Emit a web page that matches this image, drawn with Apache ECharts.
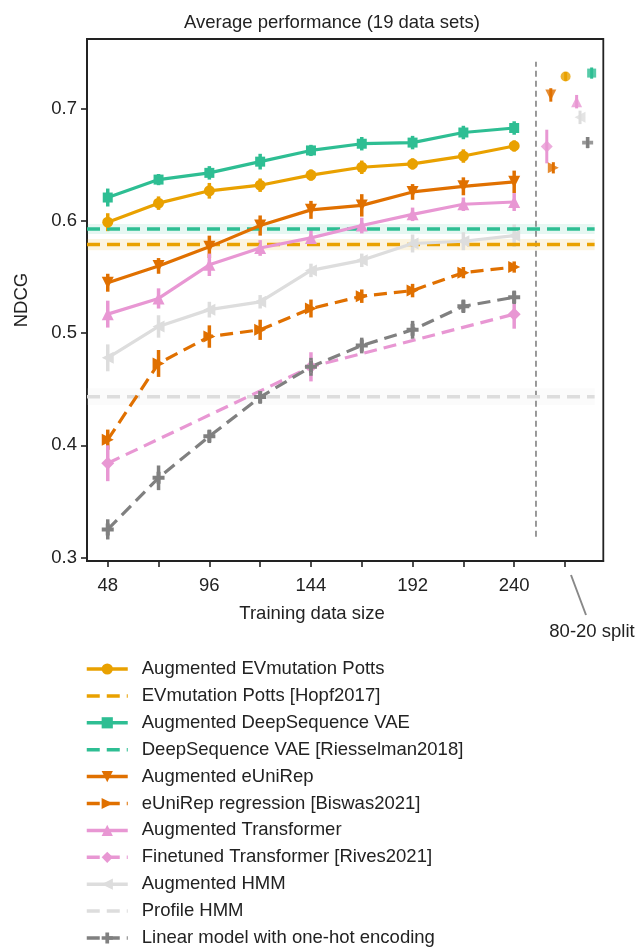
<!DOCTYPE html>
<html>
<head>
<meta charset="utf-8">
<script src="https://cdn.jsdelivr.net/npm/echarts@6/dist/echarts.min.js"></script>
<style>
  html, body { margin: 0; padding: 0; background: #fff; }
  #chart { width: 638px; height: 948px; }
</style>
</head>
<body>
<div id="chart"></div>
<script>
// Training set sizes (x axis) and NDCG averages over 19 data sets
const sizes = [48, 72, 96, 120, 144, 168, 192, 216, 240];
const finetuneSizes = [48, 144, 240];
const xTickValues = [48, 72, 96, 120, 144, 168, 192, 216, 240, 264];
const xLabelValues = [48, 96, 144, 192, 240];
const yTickValues = [0.3, 0.4, 0.5, 0.6, 0.7];

const augEVmutation = [0.599, 0.616, 0.627, 0.632, 0.641, 0.648, 0.651, 0.658, 0.667];
const augEVmutationErr = [0.008, 0.006, 0.007, 0.006, 0.005, 0.006, 0.005, 0.006, 0.005];
const augVAE = [0.621, 0.637, 0.643, 0.653, 0.663, 0.669, 0.670, 0.679, 0.683];
const augVAEErr = [0.008, 0.005, 0.006, 0.007, 0.005, 0.006, 0.006, 0.006, 0.006];
const augEUniRep = [0.545, 0.560, 0.577, 0.596, 0.610, 0.614, 0.626, 0.631, 0.635];
const augEUniRepErr = [0.008, 0.007, 0.010, 0.009, 0.008, 0.010, 0.007, 0.008, 0.010];
const eUniRepRegression = [0.405, 0.473, 0.497, 0.503, 0.522, 0.533, 0.538, 0.554, 0.559];
const eUniRepRegressionErr = [0.009, 0.012, 0.010, 0.009, 0.008, 0.006, 0.006, 0.005, 0.005];
const augTransformer = [0.517, 0.531, 0.561, 0.576, 0.585, 0.596, 0.606, 0.615, 0.617];
const augTransformerErr = [0.012, 0.009, 0.010, 0.007, 0.007, 0.007, 0.006, 0.006, 0.008];
const finetunedTransformer = [0.384, 0.470, 0.517];
const finetunedTransformerErr = [0.016, 0.013, 0.013];
const augHMM = [0.478, 0.506, 0.521, 0.528, 0.556, 0.565, 0.580, 0.582, 0.587];
const augHMMErr = [0.012, 0.010, 0.007, 0.006, 0.006, 0.006, 0.008, 0.008, 0.010];
const linearOneHot = [0.325, 0.371, 0.408, 0.443, 0.470, 0.489, 0.503, 0.524, 0.532];
const linearOneHotErr = [0.009, 0.011, 0.006, 0.006, 0.008, 0.007, 0.008, 0.006, 0.006];

// Baselines trained without augmentation (value, half band)
const evmutationPotts = 0.579, evmutationPottsBand = 0.005;
const deepSequenceVAE = 0.593, deepSequenceVAEBand = 0.0045;
const profileHMM = 0.4434, profileHMMBand = 0.0075;

// 80-20 split results: [x position, NDCG, error]
const split8020 = {
  'Augmented EVmutation Potts': [264.3, 0.729, 0.004],
  'Augmented DeepSequence VAE': [276.6, 0.732, 0.005],
  'Augmented eUniRep': [257.3, 0.7125, 0.006],
  'eUniRep regression [Biswas2021]': [258.5, 0.6475, 0.005],
  'Augmented Transformer': [269.5, 0.7065, 0.006],
  'Finetuned Transformer [Rives2021]': [255.4, 0.6665, 0.015],
  'Augmented HMM': [271.1, 0.6925, 0.006],
  'Linear model with one-hot encoding': [274.7, 0.670, 0.005]
};

const FONT = 'Liberation Sans, Arial, sans-serif';
const FS = 18.5;
const X_MIN = 38.2, X_MAX = 282.1, Y_MIN = 0.2968, Y_MAX = 0.7624;
const BASE_X_END = 278;
const SPLIT_X = 250.3;

const C = {
  gold: '#E9A100', green: '#2EBE93', orange: '#E07000',
  pink: '#E897D3', light: '#DDDDDD', dark: '#808080'
};
const DASH = [13, 7];
const PLUS = 'path://M2,0H4V2H6V4H4V6H2V4H0V2H2Z';

const series = [];

function errorBars(name, color, xs, ys, es, width) {
  return {
    type: 'custom', name: name + ' error', silent: true, z: 3,
    data: xs.map((x, i) => [x, ys[i] - es[i], ys[i] + es[i]]),
    encode: { x: 0, y: [1, 2] },
    renderItem: function (params, api) {
      const p1 = api.coord([api.value(0), api.value(1)]);
      const p2 = api.coord([api.value(0), api.value(2)]);
      return { type: 'line', shape: { x1: p1[0], y1: p1[1], x2: p2[0], y2: p2[1] },
        style: { stroke: color, lineWidth: width || 3.5 } };
    }
  };
}

function curve(name, color, xs, ys, es, symbol, rotate, dashed, size) {
  series.push({
    type: 'line', name: name, z: 4,
    data: xs.map((x, i) => [x, ys[i]]),
    symbol: symbol, symbolSize: size || 11, symbolRotate: rotate || 0,
    showAllSymbol: true,
    itemStyle: { color: color },
    lineStyle: { color: color, width: 3.2, type: dashed ? DASH : 'solid' },
    emphasis: { disabled: true }, animation: false
  });
  series.push(errorBars(name, color, xs, ys, es));
  const s = split8020[name];
  if (s) {
    series.push({
      type: 'scatter', name: name + ' (80-20 split)', z: 4,
      data: [[s[0], s[1]]], symbol: symbol, symbolSize: (size || 11) - 1,
      symbolRotate: rotate || 0, itemStyle: { color: color }, animation: false
    });
    series.push(errorBars(name + ' split', color, [s[0]], [s[1]], [s[2]], 3));
  }
}

function baseline(name, color, value, band) {
  series.push({
    type: 'line', name: name, z: 3,
    data: [[X_MIN, value], [BASE_X_END, value]],
    symbol: 'none', itemStyle: { color: color },
    lineStyle: { color: color, width: 3.5, type: DASH },
    markArea: {
      silent: true,
      itemStyle: { color: color, opacity: 0.12 },
      data: [[{ xAxis: X_MIN, yAxis: value - band }, { xAxis: BASE_X_END, yAxis: value + band }]]
    },
    animation: false
  });
}

curve('Augmented EVmutation Potts', C.gold, sizes, augEVmutation, augEVmutationErr, 'circle', 0, false, 11);
baseline('EVmutation Potts [Hopf2017]', C.gold, evmutationPotts, evmutationPottsBand);
curve('Augmented DeepSequence VAE', C.green, sizes, augVAE, augVAEErr, 'rect', 0, false, 10);
baseline('DeepSequence VAE [Riesselman2018]', C.green, deepSequenceVAE, deepSequenceVAEBand);
curve('Augmented eUniRep', C.orange, sizes, augEUniRep, augEUniRepErr, 'triangle', 180, false, 12);
curve('eUniRep regression [Biswas2021]', C.orange, sizes, eUniRepRegression, eUniRepRegressionErr, 'triangle', -90, true, 12);
curve('Augmented Transformer', C.pink, sizes, augTransformer, augTransformerErr, 'triangle', 0, false, 12);
curve('Finetuned Transformer [Rives2021]', C.pink, finetuneSizes, finetunedTransformer, finetunedTransformerErr, 'diamond', 0, true, 13);
curve('Augmented HMM', C.light, sizes, augHMM, augHMMErr, 'triangle', 90, false, 12);
baseline('Profile HMM', C.light, profileHMM, profileHMMBand);
curve('Linear model with one-hot encoding', C.dark, sizes, linearOneHot, linearOneHotErr, PLUS, 0, true, 12);

// Separator between the size sweep and the 80-20 split
series.push({
  type: 'line', name: 'split separator', silent: true, z: 2,
  data: [[SPLIT_X, 0.3185], [SPLIT_X, 0.742]], symbol: 'none',
  lineStyle: { color: '#808080', width: 1.6, type: [6, 4] }, animation: false
});

const legendNames = [
  'Augmented EVmutation Potts', 'EVmutation Potts [Hopf2017]',
  'Augmented DeepSequence VAE', 'DeepSequence VAE [Riesselman2018]',
  'Augmented eUniRep', 'eUniRep regression [Biswas2021]',
  'Augmented Transformer', 'Finetuned Transformer [Rives2021]',
  'Augmented HMM', 'Profile HMM', 'Linear model with one-hot encoding'
];
// Baseline entries show only their dashed line, without a marker
const baselineNames = ['EVmutation Potts [Hopf2017]', 'DeepSequence VAE [Riesselman2018]', 'Profile HMM'];
const legendData = legendNames.map(n => baselineNames.includes(n)
  ? { name: n, itemStyle: { opacity: 0 } } : { name: n });

const chart = echarts.init(document.getElementById('chart'), null, { renderer: 'canvas' });
chart.setOption({
  animation: false,
  backgroundColor: '#fff',
  title: {
    text: 'Average performance (19 data sets)', left: 179, top: 8,
    textStyle: { fontFamily: FONT, fontSize: FS, fontWeight: 'normal', color: '#222' }
  },
  grid: {
    left: 87, right: 34.7, top: 39, bottom: 387,
    show: true, borderColor: '#222', borderWidth: 1.8, backgroundColor: 'transparent'
  },
  xAxis: {
    type: 'value', min: X_MIN, max: X_MAX,
    axisLine: { show: true, onZero: false, lineStyle: { color: '#222', width: 1.8 } },
    axisTick: { show: true, customValues: xTickValues, length: 6, lineStyle: { color: '#222', width: 1.6 } },
    axisLabel: { customValues: xLabelValues, margin: 15, fontFamily: FONT, fontSize: FS, color: '#222' },
    splitLine: { show: false }
  },
  yAxis: {
    type: 'value', min: Y_MIN, max: Y_MAX,
    axisLine: { show: true, lineStyle: { color: '#222', width: 1.8 } },
    axisTick: { show: true, customValues: yTickValues, length: 6, lineStyle: { color: '#222', width: 1.6 } },
    axisLabel: { customValues: yTickValues, margin: 10, fontFamily: FONT, fontSize: FS, color: '#222',
      formatter: v => v.toFixed(1) },
    splitLine: { show: false }
  },
  legend: {
    data: legendData, orient: 'vertical', left: 85, top: 659, height: 289, padding: 0,
    itemWidth: 41, itemHeight: 14, itemGap: 6.9,
    lineStyle: { width: 3.5 },
    textStyle: { fontFamily: FONT, fontSize: FS, color: '#222', lineHeight: 20, padding: [0, 0, 0, 9] },
    selectedMode: false
  },
  graphic: [
    { type: 'text', x: 22, y: 300, rotation: Math.PI / 2,
      style: { text: 'NDCG', font: FS + 'px ' + FONT, fill: '#222', textAlign: 'center', textVerticalAlign: 'middle' } },
    { type: 'text', x: 312, y: 614,
      style: { text: 'Training data size', font: FS + 'px ' + FONT, fill: '#222', textAlign: 'center', textVerticalAlign: 'middle' } },
    { type: 'line', shape: { x1: 571, y1: 575, x2: 586, y2: 615 },
      style: { stroke: '#888', lineWidth: 2 } },
    { type: 'text', x: 592, y: 632,
      style: { text: '80-20 split', font: FS + 'px ' + FONT, fill: '#222', textAlign: 'center', textVerticalAlign: 'middle' } }
  ],
  series: series
});
</script>
</body>
</html>
